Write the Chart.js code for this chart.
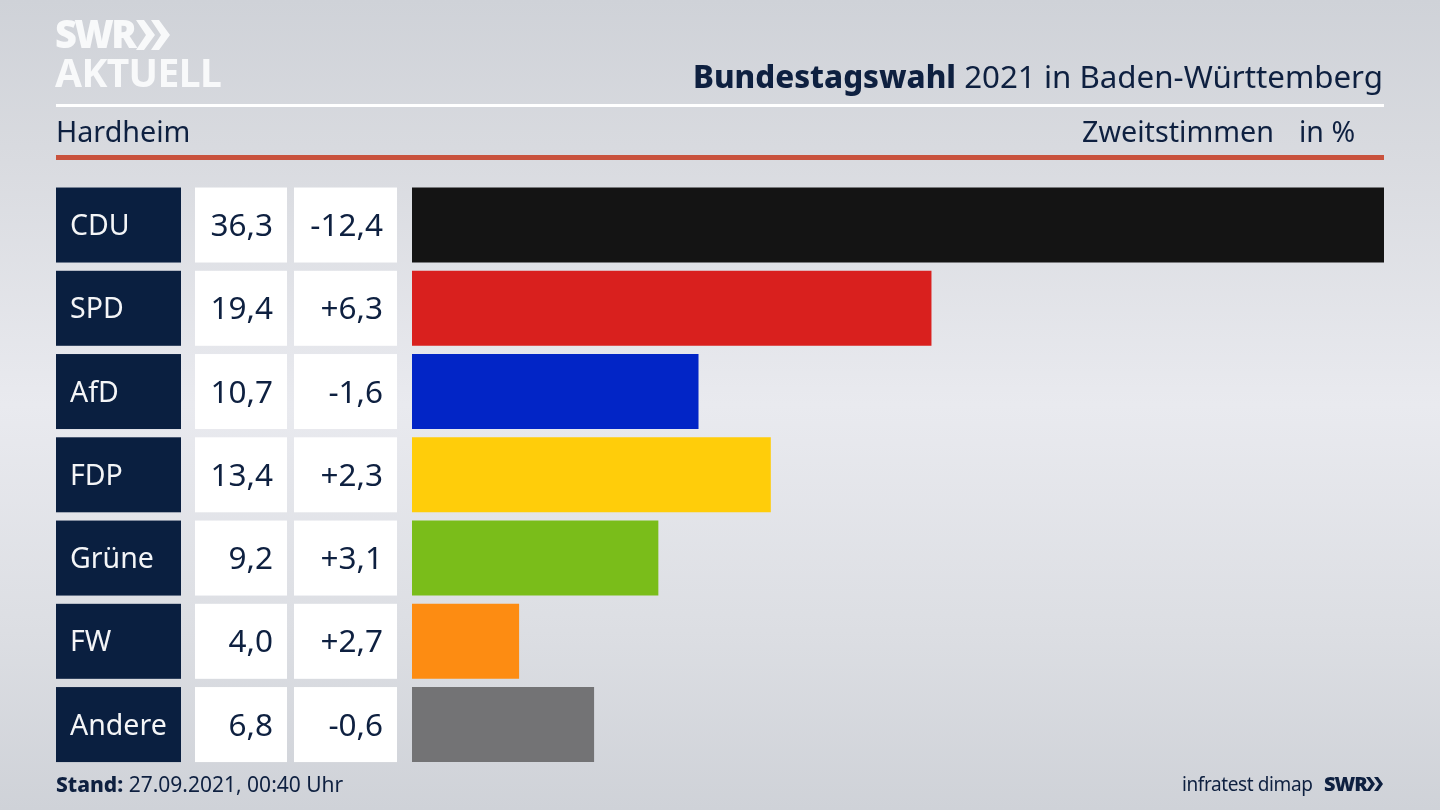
<!DOCTYPE html>
<html lang="de">
<head>
<meta charset="utf-8">
<title>Bundestagswahl 2021 in Baden-Württemberg</title>
<script src="https://cdn.jsdelivr.net/npm/chart.js@4"></script>
<style>
    html, body { margin: 0; padding: 0; width: 1440px; height: 810px; overflow: hidden; }
    body {
        position: relative;
        font-family: "Noto Sans", sans-serif;
        color: #0e2040;
        background: linear-gradient(180deg, #cfd2d8 0%, #d8dadf 18%, #e9eaef 50%, #dcdee3 78%, #cfd2d8 100%);
    }
    canvas { position: absolute; left: 0; top: 0; }
    .txt { position: absolute; white-space: nowrap; line-height: 1; }
    .rule { position: absolute; left: 56px; width: 1328px; }
    .chevrons { position: absolute; }
</style>
</head>
<body>
<canvas id="result-chart" width="1440" height="810"></canvas>

<div class="txt" style="left:55px; top:14px; font-size:38px; font-weight:900; color:#f8f9fa; letter-spacing:-2.6px;">SWR</div>
<svg class="chevrons" style="left:136px; top:18px;" width="36" height="34" viewBox="0 0 36 34">
    <polygon points="0,2 8,2 19,17 8,32 0,32 10,17" fill="#f8f9fa"/>
    <polygon points="15,2 23,2 34,17 23,32 15,32 25,17" fill="#f8f9fa"/>
</svg>
<div class="txt" style="left:55px; top:52px; font-size:39px; font-weight:700; color:#f8f9fa; letter-spacing:-0.6px;">AKTUELL</div>

<div class="txt" style="right:57px; top:61px; font-size:31.3px;"><b style="font-weight:800">Bundestagswahl</b> 2021 in Baden-Württemberg</div>
<div class="rule" style="top:104px; height:3px; background:#fff;"></div>
<div class="txt" style="left:56px; top:117px; font-size:28.7px;">Hardheim</div>
<div class="txt" style="left:1082px; top:117px; font-size:28.7px;">Zweitstimmen</div>
<div class="txt" style="left:1299px; top:117px; font-size:28.5px;">in %</div>
<div class="rule" style="top:155px; height:5px; background:#c9523d;"></div>

<div class="txt" style="left:56px; top:774px; font-size:21px;"><b style="font-weight:800">Stand:</b> 27.09.2021, 00:40 Uhr</div>
<div class="txt" style="left:1182px; top:775px; font-size:19px; letter-spacing:-0.4px;">infratest dimap</div>
<div class="txt" style="left:1324px; top:774px; font-size:20px; font-weight:900; letter-spacing:-1px;">SWR</div>
<svg class="chevrons" style="left:1366px; top:776px;" width="18" height="16" viewBox="0 0 18 16">
    <polygon points="0,1 4,1 9,8 4,15 0,15 5,8" fill="#0e2040"/>
    <polygon points="8,1 12,1 17,8 12,15 8,15 13,8" fill="#0e2040"/>
</svg>

<script>
// Wahlergebnis Hardheim, Zweitstimmen in %
const parties = ['CDU', 'SPD', 'AfD', 'FDP', 'Grüne', 'FW', 'Andere'];
const shares = [36.3, 19.4, 10.7, 13.4, 9.2, 4.0, 6.8];
const changes = [-12.4, 6.3, -1.6, 2.3, 3.1, 2.7, -0.6];
const barColors = ['#141414', '#d9201e', '#0225c6', '#ffcd0a', '#7abd1a', '#fd8c12', '#737375'];

function formatShare(value) {
    return value.toFixed(1).replace('.', ',');
}

function formatChange(value) {
    return (value > 0 ? '+' : '') + value.toFixed(1).replace('.', ',');
}

// Draws the party name and the two number boxes left of each bar
const tableColumns = {
    id: 'tableColumns',
    afterDatasetsDraw(chart) {
        const ctx = chart.ctx;
        const yScale = chart.scales.y;
        const h = 75;

        ctx.save();
        ctx.textBaseline = 'middle';

        parties.forEach(function(party, i) {
            const yCenter = yScale.getPixelForValue(i);
            const top = yCenter - h / 2;

            ctx.fillStyle = '#0a1f40';
            ctx.fillRect(56, top, 125, h);
            ctx.fillStyle = '#ffffff';
            ctx.fillRect(195, top, 92, h);
            ctx.fillRect(294, top, 103, h);

            ctx.font = '28.5px "Noto Sans", sans-serif';
            ctx.fillStyle = '#f4f5f7';
            ctx.textAlign = 'left';
            ctx.fillText(party, 70, yCenter + 2);

            ctx.font = '31.5px "Noto Sans", sans-serif';
            ctx.fillStyle = '#0e2040';
            ctx.textAlign = 'right';
            ctx.fillText(formatShare(shares[i]), 273, yCenter + 2);
            ctx.fillText(formatChange(changes[i]), 383, yCenter + 2);
        });
        ctx.restore();
    }
};

document.addEventListener('DOMContentLoaded', function() {
    const ctx = document.getElementById('result-chart').getContext('2d');

    new Chart(ctx, {
        type: 'bar',
        data: {
            labels: parties,
            datasets: [{
                data: shares,
                backgroundColor: barColors,
                borderWidth: 0,
                barPercentage: 0.9009,
                categoryPercentage: 1
            }]
        },
        options: {
            indexAxis: 'y',
            responsive: false,
            animation: false,
            layout: {
                padding: { left: 412, right: 56, top: 183.4, bottom: 43.8 }
            },
            plugins: {
                legend: { display: false },
                title: { display: false },
                tooltip: { enabled: false }
            },
            scales: {
                x: { display: false, min: 0, max: 36.3 },
                y: { display: false }
            }
        },
        plugins: [tableColumns]
    });
});
</script>
</body>
</html>
